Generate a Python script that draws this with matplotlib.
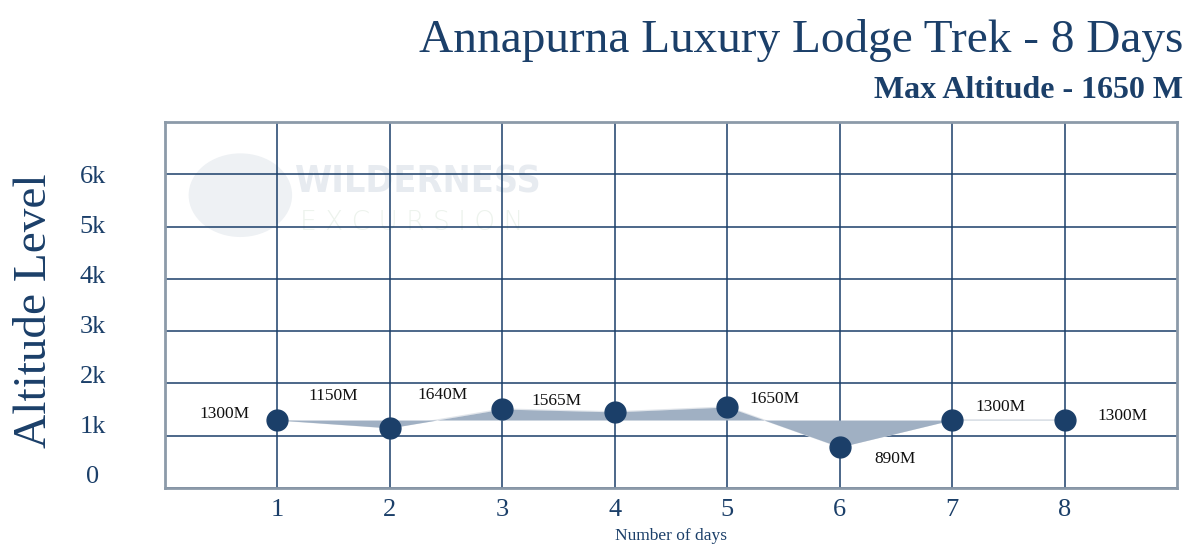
import numpy as np
import matplotlib.pyplot as plt
from matplotlib.patches import Ellipse

# дані маршруту
days = [1, 2, 3, 4, 5, 6, 7, 8]
altitude = [1300, 1150, 1510, 1455, 1550, 785, 1305, 1305]
point_labels = ["1300M", "1150M", "1640M", "1565M", "1650M", "890M", "1300M", "1300M"]
label_x = [0.53, 1.50, 2.47, 3.48, 5.42, 6.49, 7.43, 8.51]
label_y = [1410, 1755, 1775, 1660, 1705, 550, 1545, 1375]
base_level = 1300

grid_levels = [0, 1000, 2000, 3000, 4000, 5000, 6000, 7000]
ytick_labels = ["0", "1k", "2k", "3k", "4k", "5k", "6k"]
ytick_pos = [250, 1210, 2170, 3120, 4080, 5030, 5990]

title = "Annapurna Luxury Lodge Trek - 8 Days"
subtitle = "Max Altitude - 1650 M"

navy = "#1b3f69"
frame_col = "#8c9aa9"
fill_col = "#a0b0c3"
serif = ["Liberation Serif", "DejaVu Serif"]

fig = plt.figure(figsize=(12, 5.56), dpi=100)
ax = fig.add_axes([0.1375, 0.1223, 0.8436, 0.6583])

ax.set_xlim(0, 9)
ax.set_ylim(0, 7000)

# водяний знак
ax.add_patch(Ellipse((0.67, 5600), 0.92, 1600, color="#eef1f4", zorder=0, lw=0))
ax.text(1.16, 5850, "WILDERNESS", fontsize=27, fontweight="heavy", color="#e7ebf0",
        family="DejaVu Sans", fontstretch="condensed", va="center", ha="left", zorder=0.5)
ax.text(1.2, 5080, "E X C U R S I O N", fontsize=19, fontweight="light", color="#edf3ed",
        family="DejaVu Sans", va="center", ha="left", zorder=0.5)

# сітка
ax.set_xticks(days, [str(d) for d in days])
ax.set_yticks(grid_levels, minor=True)
ax.set_yticks(ytick_pos, ytick_labels)
ax.grid(axis="x", which="major", color=navy, linewidth=1.1)
ax.grid(axis="y", which="minor", color=navy, linewidth=1.1)
ax.set_axisbelow(True)

ax.tick_params(which="both", length=0)
ax.tick_params(axis="x", pad=8, labelsize=19, labelcolor=navy)
ax.tick_params(axis="y", pad=52, labelsize=19, labelcolor=navy)
for lab in ax.get_xticklabels() + ax.get_yticklabels():
    lab.set_family(serif)
plt.setp(ax.get_yticklabels(), ha="center")

for s in ax.spines.values():
    s.set_color(frame_col)
    s.set_linewidth(2)

# заливка відносно стартової висоти
ax.plot(days, altitude, color="#e2e6eb", lw=1, zorder=1.8)
ax.fill_between(days, altitude, base_level, color=fill_col, lw=0, zorder=2)
ax.plot(days, altitude, "o", color=navy, markersize=15, zorder=3)

for x, y, t in zip(label_x, label_y, point_labels):
    ax.text(x, y, t, fontsize=12.5, family=serif, ha="center", va="center", color="#111111", zorder=4)

ax.set_xlabel("Number of days", fontsize=12.5, family=serif, color=navy, labelpad=5)
ax.set_ylabel("Altitude Level", fontsize=34, family=serif, color=navy)
ax.yaxis.label.set_va("center")
ax.yaxis.set_label_coords(-0.129, 0.485)

fig.text(0.986, 0.906, title, fontsize=34, family=serif, color=navy, ha="right", va="baseline")
fig.text(0.986, 0.824, subtitle, fontsize=23, fontweight="bold", family=serif, color=navy,
         ha="right", va="baseline")

fig.savefig("out.png", dpi=100)
